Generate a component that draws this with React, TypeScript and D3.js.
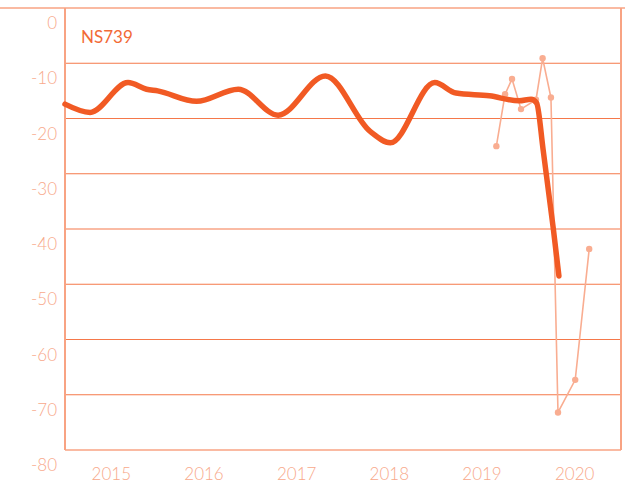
import React from "react";
import * as d3 from "d3";

const title = "NS739";
const yTicks = [0, -10, -20, -30, -40, -50, -60, -70, -80];
const yearTicks = [2015, 2016, 2017, 2018, 2019, 2020];

// smoothed series (fractional year, value)
const smoothYears = [2014.5, 2014.77, 2015.18, 2015.38, 2015.5, 2015.92, 2016.37, 2016.8, 2017.31, 2017.79, 2018.01, 2018.49, 2018.72, 2019.08, 2019.4, 2019.53, 2019.59, 2019.66, 2019.77, 2019.83];
const smoothValues = [-17.4, -18.9, -13.5, -14.7, -15.0, -16.9, -14.7, -19.4, -12.3, -22.3, -24.4, -13.5, -15.4, -15.9, -16.8, -16.5, -17.2, -25.7, -40.0, -48.5];

// raw observations
const rawYears = [2019.155, 2019.249, 2019.324, 2019.421, 2019.583, 2019.654, 2019.744, 2019.82, 2020.006, 2020.157];
const rawValues = [-25.0, -15.6, -12.85, -18.3, -16.6, -9.1, -16.2, -73.2, -67.3, -43.6];

const W = 625;
const H = 485;
const M = { left: 65, right: 621, top: 8, bottom: 450 };

export default function App() {
  const x = d3.scaleLinear().domain([2014.5, 2020.5]).range([M.left, M.right]);
  const y = d3.scaleLinear().domain([0, -80]).range([M.top, M.bottom]);

  const smooth = smoothYears.map((t, i) => [t, smoothValues[i]] as [number, number]);
  const raw = rawYears.map((t, i) => [t, rawValues[i]] as [number, number]);

  const smoothLine = d3
    .line<[number, number]>()
    .x((d) => x(d[0]))
    .y((d) => y(d[1]))
    .curve(d3.curveMonotoneX)(smooth);
  const rawLine = d3
    .line<[number, number]>()
    .x((d) => x(d[0]))
    .y((d) => y(d[1]))(raw);

  const font = "Lato, 'Open Sans', sans-serif";

  return (
    <svg
      width={W}
      height={H}
      style={{ position: "absolute", left: 0, top: 0, display: "block" }}
    >
      <rect width={W} height={H} fill="#ffffff" />
      {/* grid */}
      {yTicks.slice(1, -1).map((t) => (
        <line
          key={t}
          x1={M.left}
          x2={M.right}
          y1={y(t)}
          y2={y(t)}
          stroke="#f5784a"
          strokeWidth={1.2}
        />
      ))}
      {/* frame */}
      <line x1={0} x2={W} y1={M.top} y2={M.top} stroke="#f8a383" strokeWidth={1.5} />
      <line x1={M.left} x2={M.left} y1={M.top} y2={M.bottom} stroke="#f8a383" strokeWidth={2} />
      <line x1={M.right} x2={M.right} y1={M.top} y2={M.bottom} stroke="#f8a383" strokeWidth={2} />
      <line x1={M.left} x2={M.right} y1={M.bottom} y2={M.bottom} stroke="#f8a383" strokeWidth={1.5} />

      {/* y labels */}
      {yTicks.map((t) => (
        <text
          key={t}
          x={57}
          y={y(t) + 21}
          textAnchor="end"
          fontFamily={font}
          fontSize={17}
          fontWeight={300}
          fill="#f8a98b"
        >
          {t}
        </text>
      ))}
      {/* x labels */}
      {yearTicks.map((t) => (
        <text
          key={t}
          x={x(t)}
          y={480}
          textAnchor="middle"
          fontFamily={font}
          fontSize={17}
          fontWeight={300}
          fill="#f8a98b"
        >
          {t}
        </text>
      ))}

      {/* raw series */}
      <path d={rawLine || ""} fill="none" stroke="#f9ad91" strokeWidth={1.6} />
      {raw.map((d, i) => (
        <circle key={i} cx={x(d[0])} cy={y(d[1])} r={3.2} fill="#f9ad91" />
      ))}

      {/* smooth series */}
      <path
        d={smoothLine || ""}
        fill="none"
        stroke="#f15a24"
        strokeWidth={5.5}
        strokeLinecap="round"
        strokeLinejoin="round"
      />

      <text x={81} y={43} fontFamily={font} fontSize={17} fill="#f26a36">
        {title}
      </text>
    </svg>
  );
}
